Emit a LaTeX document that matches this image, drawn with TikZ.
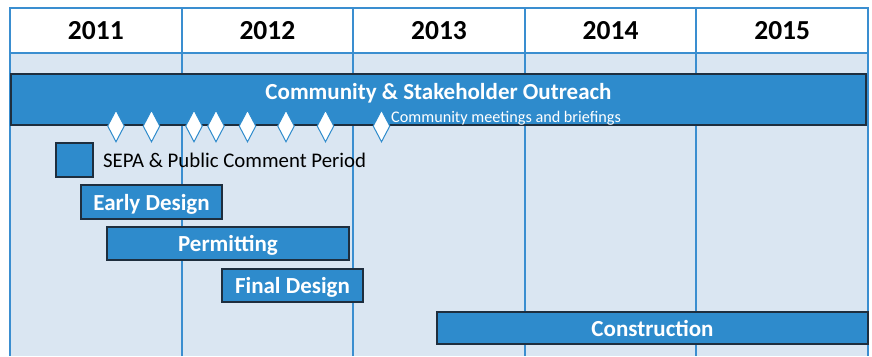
\documentclass[tikz,border=0pt]{standalone}
\usepackage{fontspec}
\setmainfont{Carlito}
\usetikzlibrary{shapes.geometric}
\definecolor{gridblue}{HTML}{3A8ED0}
\definecolor{bodyfill}{HTML}{DAE6F2}
\definecolor{barfill}{HTML}{2E8BCC}
\definecolor{barline}{HTML}{1E2E3E}
\tikzset{
  hdr/.style={draw=gridblue, line width=2pt, fill=white, minimum width=171.6pt, minimum height=45pt, inner sep=0pt, font=\fontsize{27.5}{29}\selectfont\bfseries},
  bar/.style={draw=barline, line width=1.2pt, fill=barfill, inner sep=0pt, text=white, text height=16.5pt, text depth=0pt, font=\fontsize{23}{25}\selectfont\bfseries},
  mile/.style={diamond, draw=barfill, line width=1pt, fill=white, minimum width=17pt, minimum height=32pt, inner sep=0pt},
  vline/.style={draw=gridblue, line width=2pt}
}
\begin{document}
\begin{tikzpicture}[x=1pt,y=-1pt]
\useasboundingbox (0,0) rectangle (872,356);
% body background
\fill[bodyfill] (10,53) rectangle (868,356);
% vertical grid lines
\coordinate (t0) at (10,53);  \coordinate (b0) at (10,356);
\coordinate (t1) at (181.6,53); \coordinate (b1) at (181.6,356);
\coordinate (t2) at (353.2,53); \coordinate (b2) at (353.2,356);
\coordinate (t3) at (524.8,53); \coordinate (b3) at (524.8,356);
\coordinate (t4) at (696.4,53); \coordinate (b4) at (696.4,356);
\coordinate (t5) at (868,53); \coordinate (b5) at (868,356);
\foreach \i in {0,...,5} { \draw[vline] (t\i) -- (b\i); }
% header
\node[hdr] (h1) at (95.8,30.5) {2011};
\node[hdr] (h2) at (267.4,30.5) {2012};
\node[hdr] (h3) at (439,30.5) {2013};
\node[hdr] (h4) at (610.6,30.5) {2014};
\node[hdr] (h5) at (782.2,30.5) {2015};
% outreach bar
\node[bar, minimum width=855pt, minimum height=51pt] (outreach) at (438.5,99.5) {};
\node[text=white, font=\fontsize{23}{25}\selectfont\bfseries, inner sep=0pt] (otitle) at (438.5,93.5) {Community \& Stakeholder Outreach};
% milestones
\foreach \n/\x in {m1/116,m2/151.5,m3/194,m4/216,m5/247.5,m6/286,m7/325.5,m8/381.5} {
  \node[mile] (\n) at (\x,126) {};
}
\node[anchor=west, text=white, font=\fontsize{16.2}{18}\selectfont, inner sep=0pt] (meet) at (391,118.5) {Community meetings and briefings};
% SEPA legend
\node[bar, minimum width=37pt, minimum height=34pt] (sepa) at (74.5,160) {};
\node[anchor=west, inner sep=0pt, font=\fontsize{20.8}{22}\selectfont] (sepatext) at (103,160) {SEPA \& Public Comment Period};
% task bars
\node[bar, minimum width=141pt, minimum height=34pt] (early) at (151.5,202) {Early Design};
\node[bar, minimum width=242pt, minimum height=33pt] (permit) at (228,243.5) {Permitting};
\node[bar, minimum width=141pt, minimum height=33pt] (final) at (292.5,285.5) {Final Design};
\node[bar, minimum width=431pt, minimum height=32pt] (constr) at (652.5,328) {Construction};
\end{tikzpicture}
\end{document}
